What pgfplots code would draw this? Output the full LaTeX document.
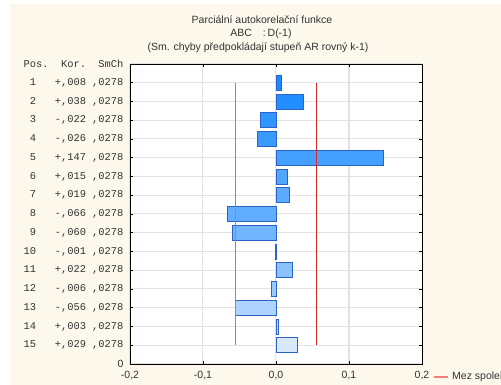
\documentclass[border=0pt]{standalone}
\usepackage{fontspec}
\setmainfont{Liberation Sans}
\setmonofont{Liberation Mono}
\usepackage{pgfplots}
\pgfplotsset{compat=1.18}
\definecolor{cream}{HTML}{FDF8EC}
\definecolor{barTop}{HTML}{1A8AFF}
\definecolor{barBot}{HTML}{D8E9FC}
\definecolor{barEdge}{HTML}{2A62C8}
\definecolor{gridc}{HTML}{E2E2E2}
\definecolor{txt}{HTML}{333333}
\definecolor{redL}{HTML}{FF5E5E}
\definecolor{redR}{HTML}{D42A2A}
\definecolor{legred}{HTML}{F08080}
\newcommand\mono{\fontsize{10.4}{12}\selectfont\ttfamily\color{txt}}
\newcommand\sfs{\fontsize{10.5}{12}\selectfont}
\pgfplotsset{mybar/.style={xbar, bar width=0.8, bar shift=0pt, draw=barEdge, line width=0.8pt}}
\begin{document}
\begin{tikzpicture}[x=1pt,y=1pt]
\path[use as bounding box] (0,0) rectangle (501,385);
\fill[white] (0,0) rectangle (501,385);
\fill[cream] (10,0) rectangle (501,381);
\node[font=\sfs, text=txt] at (262,365) {Parciální autokorelační funkce};
\node[font=\sfs, text=txt] at (261,351) {ABC\hspace{11pt}:\,D(-1)};
\node[font=\sfs, text=txt] at (258,337) {(Sm. chyby předpokládají stupeň AR rovný k-1)};
\begin{axis}[at={(130pt,21pt)}, anchor=south west, scale only axis,
  width=292pt, height=300pt,
  xmin=-0.2, xmax=0.2, ymin=0, ymax=16,
  xtick={-0.2,-0.1,0,0.1,0.2},
  xticklabels={{-0,2},{-0,1},{0,0},{0,1},{0,2}},
  ytick={0,1,2,3,4,5,6,7,8,9,10,11,12,13,14,15,16},
  yticklabels={
    {0},
    {\mono 15\ \ \ +,029\ ,0278},
    {\mono 14\ \ \ +,003\ ,0278},
    {\mono 13\ \ \ -,056\ ,0278},
    {\mono 12\ \ \ -,006\ ,0278},
    {\mono 11\ \ \ +,022\ ,0278},
    {\mono 10\ \ \ -,001\ ,0278},
    {\mono \ 9\ \ \ -,060\ ,0278},
    {\mono \ 8\ \ \ -,066\ ,0278},
    {\mono \ 7\ \ \ +,019\ ,0278},
    {\mono \ 6\ \ \ +,015\ ,0278},
    {\mono \ 5\ \ \ +,147\ ,0278},
    {\mono \ 4\ \ \ -,026\ ,0278},
    {\mono \ 3\ \ \ -,022\ ,0278},
    {\mono \ 2\ \ \ +,038\ ,0278},
    {\mono \ 1\ \ \ +,008\ ,0278},
    {\mono Pos.\ \ Kor.\ \ SmCh}},
  xmajorgrids, ymajorgrids,
  major grid style={gridc, line width=1pt},
  tick align=inside, major tick length=3pt,
  tick style={black, line width=0.6pt},
  axis line style={black, line width=0.9pt},
  axis background/.style={fill=white},
  ticklabel style={font=\sfs, text=txt},
  yticklabel style={xshift=-3pt},
  xticklabel style={yshift=-4pt},
]
\addplot[mybar, fill=barTop!100!barBot] coordinates {(0.008,15)};
\addplot[mybar, fill=barTop!96!barBot] coordinates {(0.038,14)};
\addplot[mybar, fill=barTop!88!barBot] coordinates {(-0.022,13)};
\addplot[mybar, fill=barTop!83!barBot] coordinates {(-0.026,12)};
\addplot[mybar, fill=barTop!78!barBot] coordinates {(0.147,11)};
\addplot[mybar, fill=barTop!71!barBot] coordinates {(0.015,10)};
\addplot[mybar, fill=barTop!65!barBot] coordinates {(0.019,9)};
\addplot[mybar, fill=barTop!62!barBot] coordinates {(-0.066,8)};
\addplot[mybar, fill=barTop!55!barBot] coordinates {(-0.060,7)};
\addplot[mybar, fill=barTop!48!barBot] coordinates {(-0.001,6)};
\addplot[mybar, fill=barTop!40!barBot] coordinates {(0.022,5)};
\addplot[mybar, fill=barTop!32!barBot] coordinates {(-0.006,4)};
\addplot[mybar, fill=barTop!22!barBot] coordinates {(-0.056,3)};
\addplot[mybar, fill=barTop!12!barBot] coordinates {(0.003,2)};
\addplot[mybar, fill=barTop!0!barBot] coordinates {(0.029,1)};
\addplot[redL, line width=0.8pt] coordinates {(-0.0556,1) (-0.0556,15)};
\addplot[redR, line width=0.8pt] coordinates {(0.0556,1) (0.0556,15)};
\end{axis}
\draw[legred, line width=1.2pt] (434,8) -- (448,8);
\node[anchor=west, font=\sfs, text=txt, inner sep=0pt] at (452,8) {Mez spolehlivosti};
\end{tikzpicture}
\end{document}
